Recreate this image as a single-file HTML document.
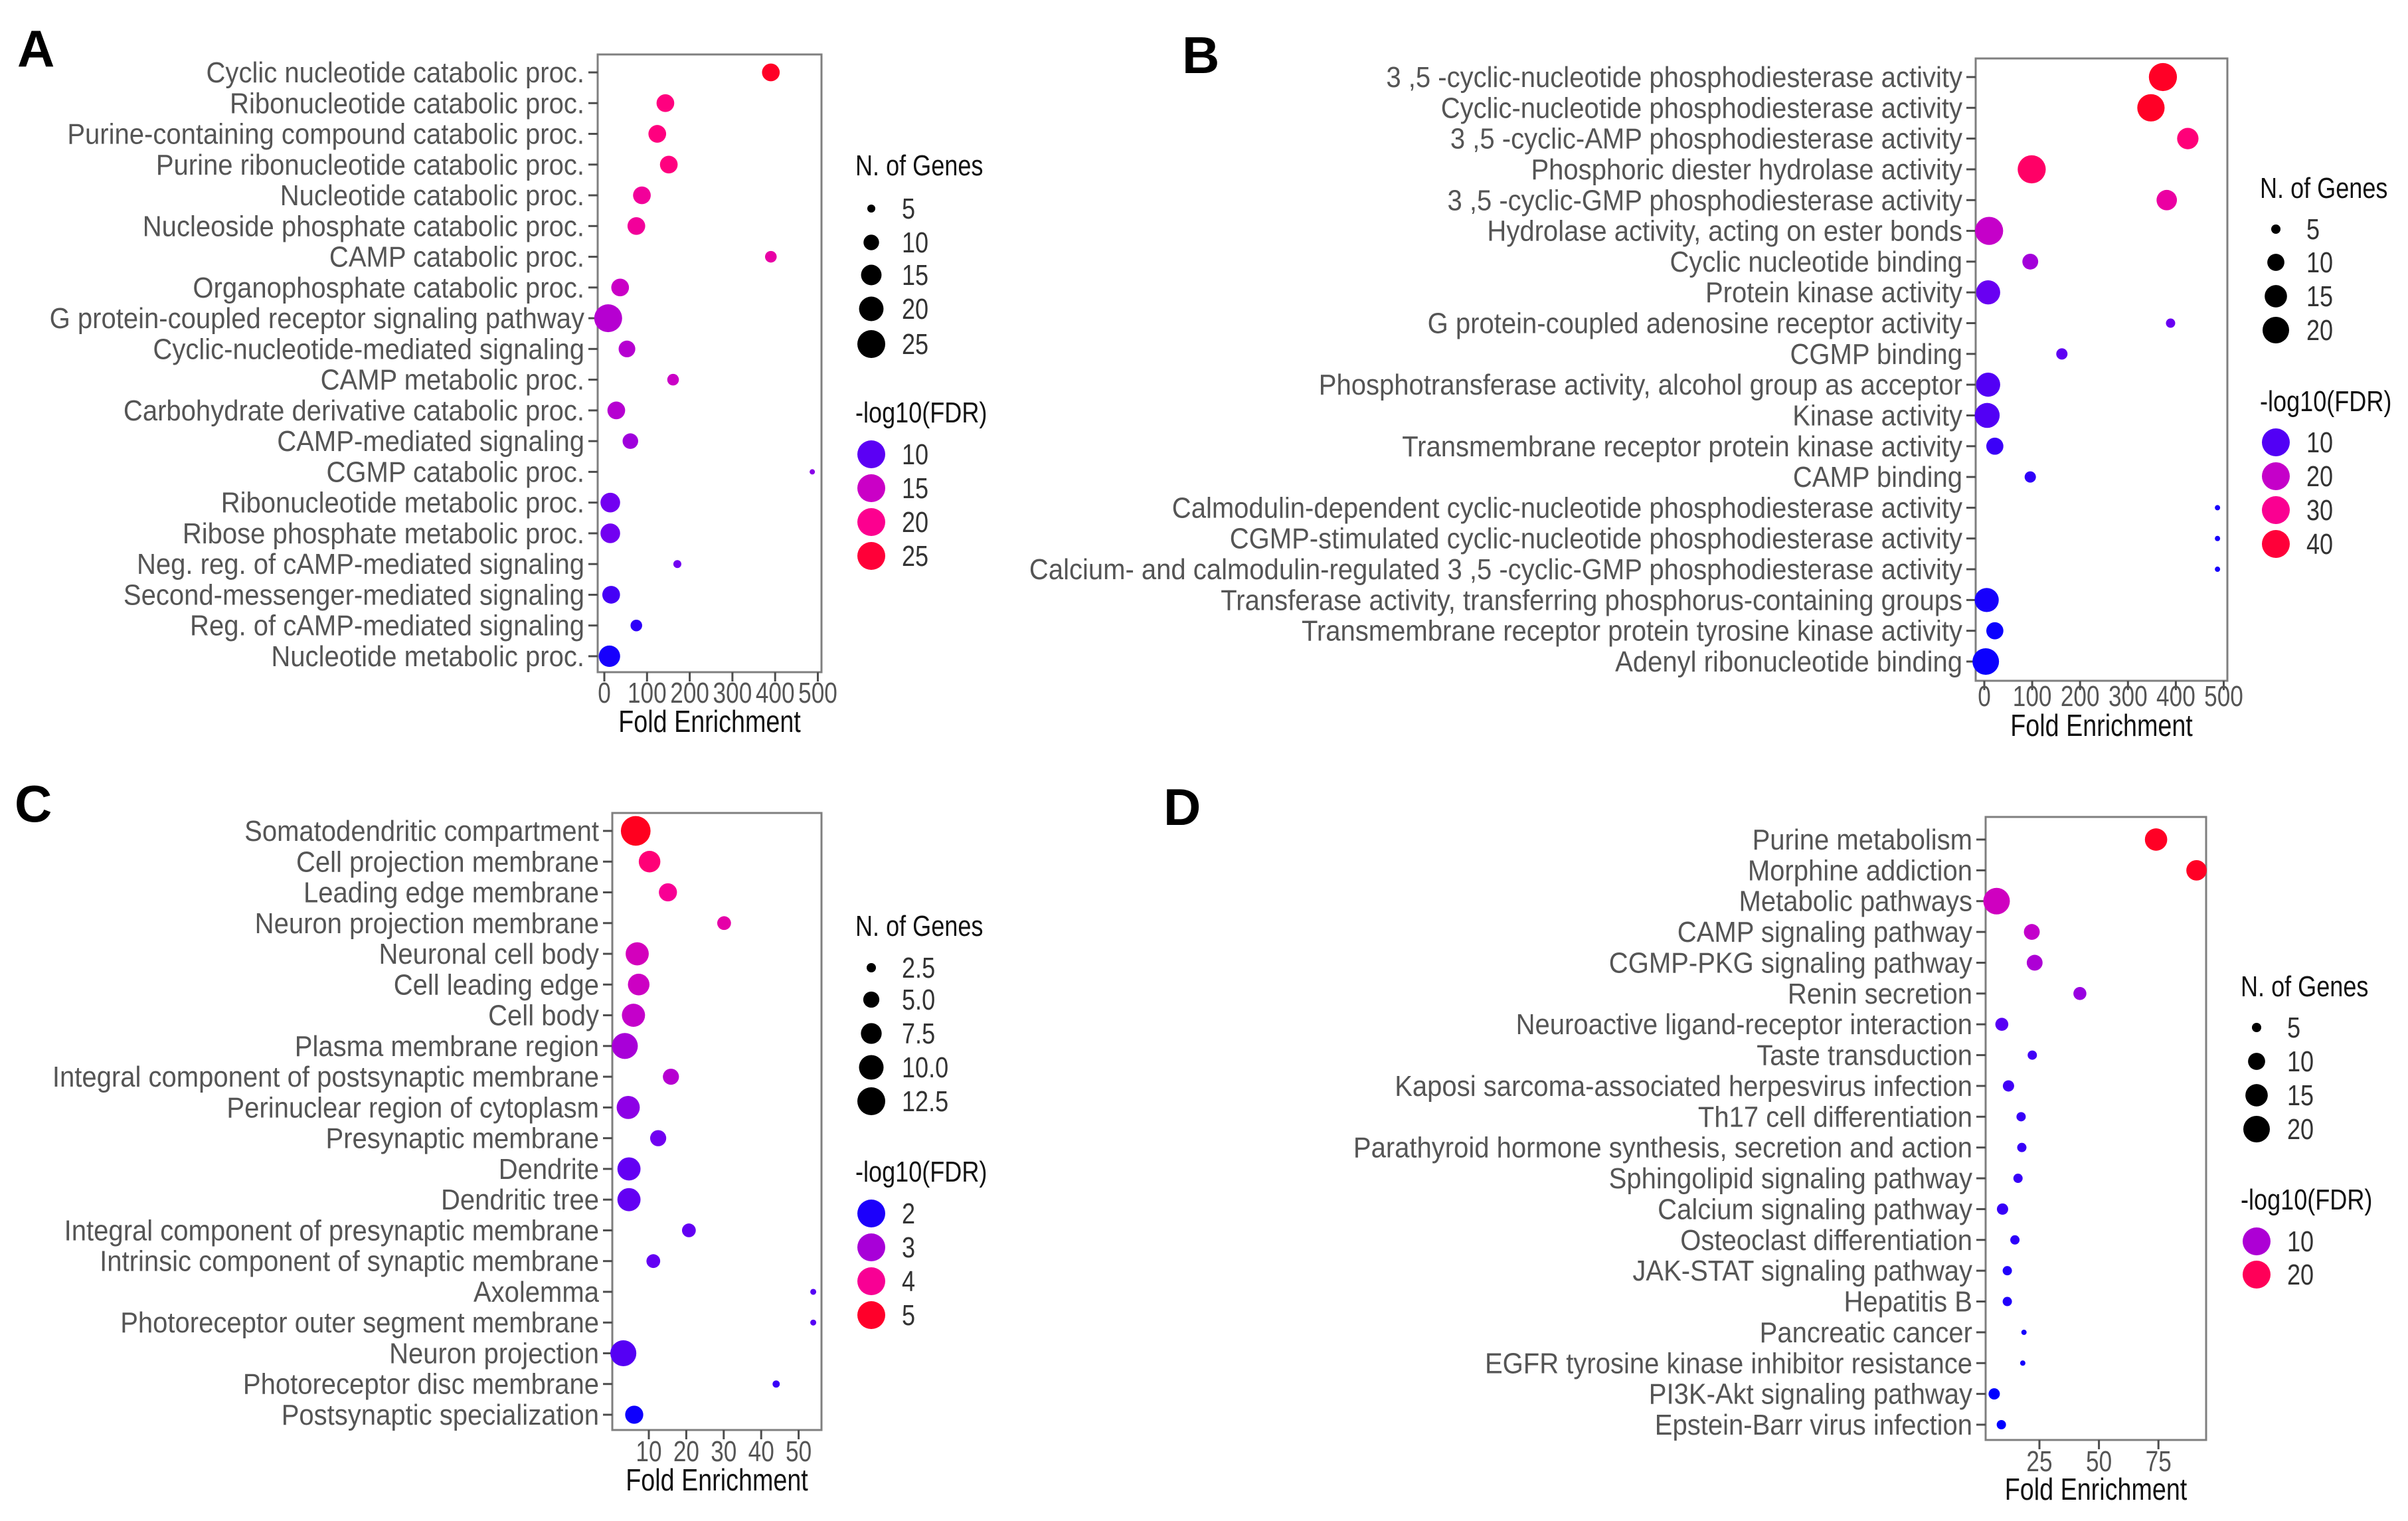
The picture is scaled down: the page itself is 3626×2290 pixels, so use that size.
<!DOCTYPE html>
<html><head><meta charset="utf-8">
<style>
html,body{margin:0;padding:0;background:#fff;}
svg{display:block;}
text{font-family:"Liberation Sans",sans-serif;}
</style></head>
<body>
<svg id="fig" width="3626" height="2290" viewBox="0 0 3626 2290" xmlns="http://www.w3.org/2000/svg">
<rect width="3626" height="2290" fill="#fff"/>
</svg>
<script>
// ---------- Panel A data ----------
const aTerms = ["Cyclic nucleotide catabolic proc.","Ribonucleotide catabolic proc.","Purine-containing compound catabolic proc.","Purine ribonucleotide catabolic proc.","Nucleotide catabolic proc.","Nucleoside phosphate catabolic proc.","CAMP catabolic proc.","Organophosphate catabolic proc.","G protein-coupled receptor signaling pathway","Cyclic-nucleotide-mediated signaling","CAMP metabolic proc.","Carbohydrate derivative catabolic proc.","CAMP-mediated signaling","CGMP catabolic proc.","Ribonucleotide metabolic proc.","Ribose phosphate metabolic proc.","Neg. reg. of cAMP-mediated signaling","Second-messenger-mediated signaling","Reg. of cAMP-mediated signaling","Nucleotide metabolic proc."];
const aFold = [390,143,124,151,88,75,390,37,9,53,161,28,61,487,14,14,171,16,75,12];
const aGenes = [12,12,12,12,12,12,7,12,25,11,7,12,10,3,14,14,5,12,7,16];
const aFdr = [26,21,21,21,19,19,18,15,14,14,15,14,13,12,11,11,11,9,8,7];
const aTicks = [0,100,200,300,400,500];
const aSizeLegend = [5,10,15,20,25];
const aColorLegend = [10,15,20,25];

// ---------- Panel B data ----------
const bTerms = ["3 ,5 -cyclic-nucleotide phosphodiesterase activity","Cyclic-nucleotide phosphodiesterase activity","3 ,5 -cyclic-AMP phosphodiesterase activity","Phosphoric diester hydrolase activity","3 ,5 -cyclic-GMP phosphodiesterase activity","Hydrolase activity, acting on ester bonds","Cyclic nucleotide binding","Protein kinase activity","G protein-coupled adenosine receptor activity","CGMP binding","Phosphotransferase activity, alcohol group as acceptor","Kinase activity","Transmembrane receptor protein kinase activity","CAMP binding","Calmodulin-dependent cyclic-nucleotide phosphodiesterase activity","CGMP-stimulated cyclic-nucleotide phosphodiesterase activity","Calcium- and calmodulin-regulated 3 ,5 -cyclic-GMP phosphodiesterase activity","Transferase activity, transferring phosphorus-containing groups","Transmembrane receptor protein tyrosine kinase activity","Adenyl ribonucleotide binding"];
const bFold = [373,348,425,99,381,10,96,8,389,162,8,6,22,96,487,487,487,5,22,3];
const bGenes = [22,21,14,22,13,22,9,17,5,6,17,18,10,6,3,3,3,17,10,20];
const bFdr = [42,42,33,35,27,20,17,12,12,11,10,10,8,7,5,5,5,5,4,4];
const bTicks = [0,100,200,300,400,500];
const bSizeLegend = [5,10,15,20];
const bColorLegend = [10,20,30,40];

// ---------- Panel C data ----------
const cTerms = ["Somatodendritic compartment","Cell projection membrane","Leading edge membrane","Neuron projection membrane","Neuronal cell body","Cell leading edge","Cell body","Plasma membrane region","Integral component of postsynaptic membrane","Perinuclear region of cytoplasm","Presynaptic membrane","Dendrite","Dendritic tree","Integral component of presynaptic membrane","Intrinsic component of synaptic membrane","Axolemma","Photoreceptor outer segment membrane","Neuron projection","Photoreceptor disc membrane","Postsynaptic specialization"];
const cFold = [6.5,10.2,15.1,30.1,6.9,7.3,5.9,3.6,15.9,4.5,12.5,4.7,4.7,20.7,11.2,53.9,53.9,3.2,44,6.1];
const cGenes = [14,8,6,4,9,8,9,11,5,9,5,9,9,4,4,1,1,11,2,6];
const cFdr = [5.1,4.3,4.0,3.7,3.4,3.3,3.2,3.0,3.1,2.8,2.6,2.5,2.5,2.5,2.5,2.4,2.4,2.4,2.2,1.9];
const cTicks = [10,20,30,40,50];
const cSizeLegend = [2.5,5.0,7.5,10.0,12.5];
const cColorLegend = [2,3,4,5];

// ---------- Panel D data ----------
const dTerms = ["Purine metabolism","Morphine addiction","Metabolic pathways","CAMP signaling pathway","CGMP-PKG signaling pathway","Renin secretion","Neuroactive ligand-receptor interaction","Taste transduction","Kaposi sarcoma-associated herpesvirus infection","Th17 cell differentiation","Parathyroid hormone synthesis, secretion and action","Sphingolipid signaling pathway","Calcium signaling pathway","Osteoclast differentiation","JAK-STAT signaling pathway","Hepatitis B","Pancreatic cancer","EGFR tyrosine kinase inhibitor resistance","PI3K-Akt signaling pathway","Epstein-Barr virus infection"];
const dFold = [74,91,7,21.8,23,42,9.2,22,12,17.3,17.6,16,9.5,14.7,11.5,11.5,18.5,18,6,9];
const dGenes = [15,13,20,9,9,7,7,5,6,5,5,5,6,5,5,5,3,3,6,5];
const dFdr = [23,23,12,11,10,9,6,5,5,4.5,4.5,4.5,4.5,4,3.5,3.5,3,3,2,2];
const dTicks = [25,50,75];
const dSizeLegend = [5,10,15,20];
const dColorLegend = [10,20];

const NS = "http://www.w3.org/2000/svg";
const svg = document.getElementById('fig');
function mk(tag, attrs, parent){
  const e = document.createElementNS(NS, tag);
  for (const k in attrs) e.setAttribute(k, attrs[k]);
  (parent||svg).appendChild(e);
  return e;
}
const stops = [[0,0,0,255],[0.25,120,0,240],[0.42,200,0,200],[0.68,255,0,140],[1,255,0,20]];
function grad(t){
  t = Math.max(0, Math.min(1, t));
  for (let i=0;i<stops.length-1;i++){
    const a=stops[i], b=stops[i+1];
    if (t<=b[0]){
      const u=(t-a[0])/(b[0]-a[0]);
      return `rgb(${Math.round(a[1]+(b[1]-a[1])*u)},${Math.round(a[2]+(b[2]-a[2])*u)},${Math.round(a[3]+(b[3]-a[3])*u)})`;
    }
  }
  return 'rgb(255,0,20)';
}
function label(x,y,txt,anchor,size,fill,name,sx){
  const t = mk('text',{transform:`translate(${x},${y}) scale(${sx||0.8},1)`,'text-anchor':anchor,'font-size':size,fill:fill});
  
  
  t.textContent = txt;
  return t;
}

function panel(cfg){
  const g = mk('g',{});
  
  
  const L = cfg.letter;
  const lt = mk('text',{x:L[0],y:L[1],'font-size':78,'font-weight':'bold',fill:'#000'},g);
  
  
  lt.textContent = cfg.id.toUpperCase();

  const box = mk('rect',{x:cfg.left,y:cfg.top,width:cfg.right-cfg.left,height:cfg.bottom-cfg.top,fill:'none',stroke:'#7f7f7f','stroke-width':3},g);
  
  

  const n = cfg.terms.length;
  const step = (cfg.lastY - cfg.firstY)/(n-1);
  const yOf = i => cfg.firstY + i*step;
  const xOf = v => cfg.x0 + (v - cfg.v0)*cfg.k;
  const rOf = s => Math.max(cfg.rmin, Math.sqrt(Math.max(0, cfg.ra + cfg.rb*s)));
  const cOf = f => grad((f - cfg.fmin)/(cfg.fmax - cfg.fmin));

  for (let i=0;i<n;i++){
    const y = yOf(i);
    const tk = mk('line',{x1:cfg.left-14,x2:cfg.left,y1:y,y2:y,stroke:'#4d4d4d','stroke-width':3},g);
    
    
    label(cfg.left-20, y+15, cfg.terms[i], 'end', 44, '#555', 'term-label', cfg.sx);
  }
  for (let i=0;i<n;i++){
    const c = mk('circle',{cx:xOf(cfg.fold[i]),cy:yOf(i),r:rOf(cfg.genes[i]),fill:cOf(cfg.fdr[i])},g);
    
    
  }
  cfg.ticks.forEach(v=>{
    const x = xOf(v);
    const tk = mk('line',{x1:x,x2:x,y1:cfg.bottom,y2:cfg.bottom+14,stroke:'#4d4d4d','stroke-width':3},g);
    
    
    label(x, cfg.tickY, String(v), 'middle', 44, '#555', 'x-tick-label', 0.8);
  });
  label((cfg.left+cfg.right)/2, cfg.titleY, 'Fold Enrichment', 'middle', 46, '#111', 'x-axis-title', 0.82);

  // legends
  label(cfg.legX, cfg.sizeTitleY, 'N. of Genes', 'start', 44, '#111', 'size-legend-title', 0.82);
  cfg.sizeLeg.forEach((s,i)=>{
    const y = cfg.sizeY[i];
    const c = mk('circle',{cx:cfg.legX+24,cy:y,r:rOf(s),fill:'#000'},g);
    
    
    label(cfg.legX+70, y+15, cfg.sizeLabels[i], 'start', 44, '#333', 'size-legend-label', 0.82);
  });
  label(cfg.legX, cfg.colTitleY, '-log10(FDR)', 'start', 44, '#111', 'color-legend-title', 0.82);
  cfg.colLeg.forEach((f,i)=>{
    const y = cfg.colY[i];
    const c = mk('circle',{cx:cfg.legX+24,cy:y,r:21,fill:cOf(f)},g);
    
    
    label(cfg.legX+70, y+15, String(f), 'start', 44, '#333', 'color-legend-label', 0.82);
  });
}

panel({id:'a',letter:[26,100],terms:aTerms,fold:aFold,genes:aGenes,fdr:aFdr,ticks:aTicks,
  left:900,right:1237,top:82,bottom:1012,firstY:109,lastY:988,x0:910,v0:0,k:0.643,
  tickY:1058,titleY:1102,ra:-65,rb:20.25,rmin:4,fmin:6,fmax:27,sx:0.91,
  legX:1288,sizeTitleY:264,sizeY:[314,365,414,465,518],sizeLabels:aSizeLegend.map(String),
  colTitleY:636,colY:[684,735,786,837],sizeLeg:aSizeLegend,colLeg:aColorLegend});
panel({id:'b',letter:[1780,110],terms:bTerms,fold:bFold,genes:bGenes,fdr:bFdr,ticks:bTicks,
  left:2975,right:3354,top:88,bottom:1025,firstY:116,lastY:996,x0:2988,v0:0,k:0.721,
  tickY:1063,titleY:1108,ra:-68,rb:23.4,rmin:4,fmin:3,fmax:44,sx:0.91,
  legX:3403,sizeTitleY:298,sizeY:[345,395,446,497],sizeLabels:bSizeLegend.map(String),
  colTitleY:619,colY:[666,717,768,819],sizeLeg:bSizeLegend,colLeg:bColorLegend});
panel({id:'c',letter:[22,1237],terms:cTerms,fold:cFold,genes:cGenes,fdr:cFdr,ticks:cTicks,
  left:922,right:1237,top:1224,bottom:2153,firstY:1251,lastY:2130,x0:977,v0:10,k:5.64,
  tickY:2200,titleY:2244,ra:-49,rb:39.2,rmin:4.5,fmin:1.8,fmax:5.2,sx:0.91,
  legX:1288,sizeTitleY:1409,sizeY:[1457,1505,1556,1607,1658],sizeLabels:['2.5','5.0','7.5','10.0','12.5'],
  colTitleY:1779,colY:[1827,1878,1929,1980],sizeLeg:cSizeLegend,colLeg:cColorLegend});
panel({id:'d',letter:[1752,1242],terms:dTerms,fold:dFold,genes:dGenes,fdr:dFdr,ticks:dTicks,
  left:2990,right:3322,top:1230,bottom:2168,firstY:1264,lastY:2145,x0:3071,v0:25,k:3.584,
  tickY:2215,titleY:2258,ra:-68,rb:23.4,rmin:4,fmin:2,fmax:24,sx:0.91,
  legX:3374,sizeTitleY:1500,sizeY:[1547,1598,1649,1700],sizeLabels:dSizeLegend.map(String),
  colTitleY:1821,colY:[1869,1919],sizeLeg:dSizeLegend,colLeg:dColorLegend});
</script>
</body></html>
